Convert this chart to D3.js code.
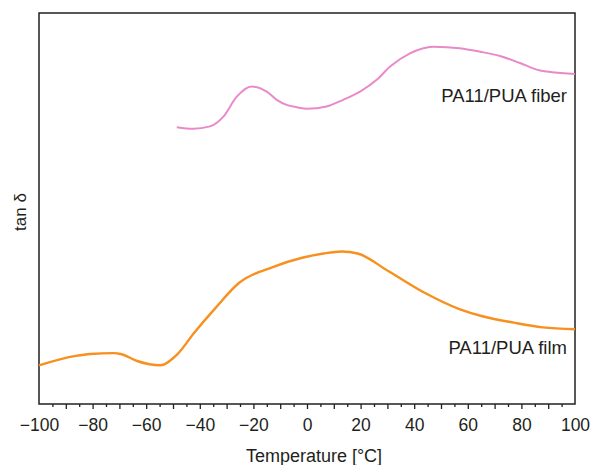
<!DOCTYPE html>
<html><head><meta charset="utf-8">
<script src="https://cdn.jsdelivr.net/npm/d3@7"></script>
<style>body{margin:0;background:#fff;} svg{display:block;}</style>
</head><body>
<svg id="c" width="592" height="465"></svg>
<script>
// Data (tan δ in arbitrary units)
const fiberTemp = [-48.6,-42.4,-36.2,-31.2,-26.2,-20.6,-15,-11.3,-7.6,-3.8,0,7.3,13.5,19.8,26,31,38.4,47.1,57,64.6,72,79.5,86.9,100];
const fiberTan  = [70.8,70.4,71.0,73.5,78.6,81.2,79.9,77.8,76.5,75.9,75.5,76.1,77.8,79.9,82.9,86.3,89.7,91.4,91.0,90.1,89.0,87.2,85.3,84.4];
const filmTemp = [-100,-86.3,-80.9,-72.2,-69.5,-63.4,-54.7,-48.7,-42,-34.6,-25.3,-12.5,-1.8,6.2,12.9,18.9,30.3,43.7,57.1,65.1,77.2,87.9,100];
const filmTan  = [9.9,12.3,12.8,13.0,12.8,11.0,9.9,12.5,18.3,24.2,31.0,35.1,37.4,38.5,39.0,38.5,34.0,28.5,24.2,22.5,20.8,19.6,19.1];
const xTickLabels = [-100,-80,-60,-40,-20,0,20,40,60,80,100];
const seriesNames = ["PA11/PUA fiber","PA11/PUA film"];

const svg = d3.select("#c");
const m = {l:39, r:575, t:13, b:404};
const x = d3.scaleLinear().domain([-100,100]).range([m.l,m.r]);
const y = d3.scaleLinear().domain([0,100]).range([m.b,m.t]);
const font = "'Liberation Sans', Arial, sans-serif";
const txt = "#231f20";

// frame
svg.append("rect").attr("x",m.l).attr("y",m.t).attr("width",m.r-m.l).attr("height",m.b-m.t)
  .attr("fill","none").attr("stroke","#231f20").attr("stroke-width",1.5);

// minor ticks
const minor = d3.axisBottom(x).tickValues(d3.range(-95,100,10)).tickSize(3).tickFormat("");
svg.append("g").attr("transform",`translate(0,${m.b})`).call(minor)
  .call(g=>g.select(".domain").remove())
  .call(g=>g.selectAll("line").attr("stroke","#231f20").attr("stroke-width",1.3));
// major ticks
const major = d3.axisBottom(x).tickValues(d3.range(-90,100,10)).tickSize(5).tickFormat("");
svg.append("g").attr("transform",`translate(0,${m.b})`).call(major)
  .call(g=>g.select(".domain").remove())
  .call(g=>g.selectAll("line").attr("stroke","#231f20").attr("stroke-width",1.3));
// labels
const lab = d3.axisBottom(x).tickValues(xTickLabels).tickSize(0).tickPadding(15)
  .tickFormat(d => d<0 ? "\u2212"+Math.abs(d) : String(d));
svg.append("g").attr("transform",`translate(0,${m.b})`).call(lab)
  .call(g=>g.select(".domain").remove())
  .call(g=>g.selectAll("text").attr("font-family",font).attr("font-size",17.5).attr("fill",txt));

// axis titles
svg.append("text").attr("x",x(0)+7).attr("y",462).attr("text-anchor","middle")
  .attr("font-family",font).attr("font-size",18).attr("fill",txt).text("Temperature [°C]");
svg.append("text").attr("transform",`translate(26,${212}) rotate(-90)`).attr("text-anchor","middle")
  .attr("font-family",font).attr("font-size",17).attr("fill",txt).text("tan δ");

const line = d3.line().x(d=>x(d[0])).y(d=>y(d[1])).curve(d3.curveMonotoneX);
svg.append("path").datum(d3.zip(fiberTemp,fiberTan)).attr("d",line)
  .attr("fill","none").attr("stroke","#e98ac8").attr("stroke-width",2);
svg.append("path").datum(d3.zip(filmTemp,filmTan)).attr("d",line)
  .attr("fill","none").attr("stroke","#f7901e").attr("stroke-width",2.4);

svg.append("text").attr("x",567).attr("y",101.5).attr("text-anchor","end")
  .attr("font-family",font).attr("font-size",18.5).attr("fill",txt).text(seriesNames[0]);
svg.append("text").attr("x",567).attr("y",354).attr("text-anchor","end")
  .attr("font-family",font).attr("font-size",18.5).attr("fill",txt).text(seriesNames[1]);
</script>
</body></html>
